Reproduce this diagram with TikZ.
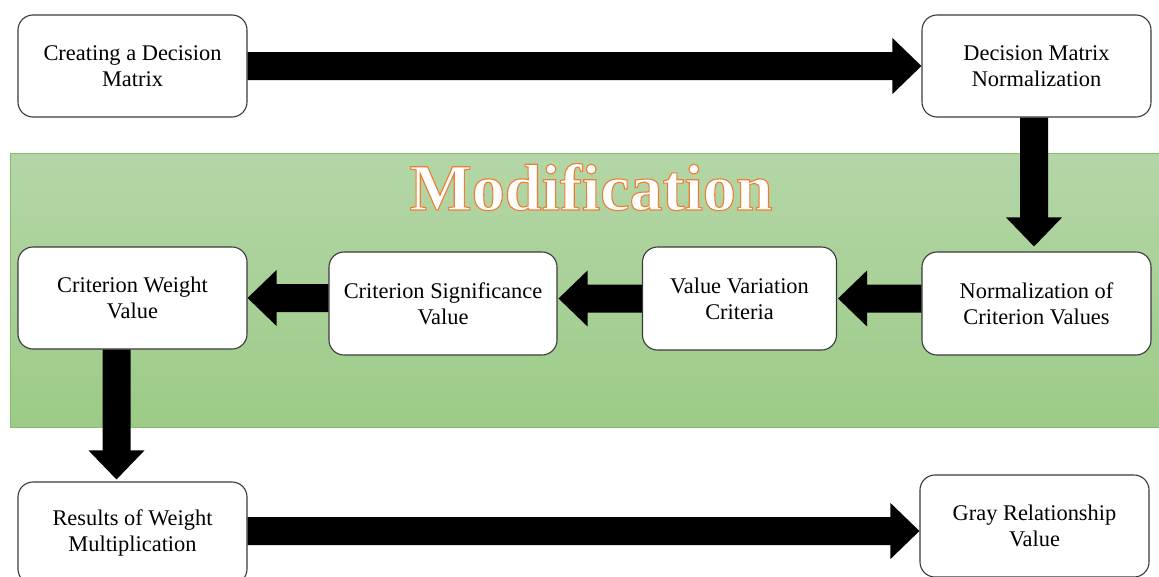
\documentclass[tikz,border=0pt]{standalone}
\usepackage{fontspec}
\setmainfont{Liberation Serif}
\usetikzlibrary{calc}
\definecolor{bandtop}{HTML}{B4D6A7}
\definecolor{bandbot}{HTML}{9CCB87}
\definecolor{bandline}{HTML}{84BD6E}
\definecolor{boxline}{HTML}{3A3A3A}
\definecolor{modorange}{HTML}{ED7D31}
\newcommand\blockarrow[2]{%
  \coordinate (ba-h) at ($(#2)!29pt!(#1)$);
  \fill[black] ($(#1)!14pt!90:(#2)$) -- ($(ba-h)!14pt!-90:(#1)$) -- ($(ba-h)!28pt!-90:(#1)$) -- (#2)
    -- ($(ba-h)!28pt!90:(#1)$) -- ($(ba-h)!14pt!90:(#1)$) -- ($(#1)!14pt!-90:(#2)$) -- cycle;}
\tikzset{
  stepbox/.style={draw=boxline, line width=1.1pt, fill=white, rounded corners=15pt,
    align=center, inner sep=0pt, font=\fontsize{22.4}{26}\selectfont, text=black},
}
\begin{document}
\begin{tikzpicture}[x=1pt,y=-1pt]
\useasboundingbox (0,0) rectangle (1159,576);
\fill[white] (0,0) rectangle (1159,576);
% band
\shade[top color=bandtop, bottom color=bandbot, draw=bandline, line width=0.8pt]
  (10,153) rectangle (1165,427);
\node[anchor=base, inner sep=0pt, font=\fontsize{66}{70}\selectfont\bfseries, text=white]
  (mod) at (591,210) {\special{pdf:literal direct 2 Tr 1.1 w 0.93 0.49 0.19 RG}Modification\special{pdf:literal direct 0 Tr}};
% boxes
\node[stepbox, minimum width=229pt, minimum height=102pt] (A) at (132.5,66) {Creating a Decision\\Matrix};
\node[stepbox, minimum width=229pt, minimum height=102pt] (B) at (1036.5,66) {Decision Matrix\\Normalization};
\node[stepbox, minimum width=229pt, minimum height=103pt] (C) at (1036.5,303.5) {Normalization of\\Criterion Values};
\node[stepbox, minimum width=194pt, minimum height=103pt] (D) at (739.5,298.5) {Value Variation\\Criteria};
\node[stepbox, minimum width=228pt, minimum height=103pt] (E) at (443,303.5) {Criterion Significance\\Value};
\node[stepbox, minimum width=229pt, minimum height=102pt] (F) at (132.5,298) {Criterion Weight\\Value};
\node[stepbox, minimum width=229pt, minimum height=102pt] (G) at (132.5,533) {Results of Weight\\Multiplication};
\node[stepbox, minimum width=229pt, minimum height=102pt] (H) at (1034.5,526) {Gray Relationship\\Value};
% arrows
\coordinate (ab1) at (A.east);
\coordinate (ab2) at (B.west|-A.east);
\blockarrow{ab1}{ab2}
\coordinate (bc1) at ($(B.south)+(-2.5,0)$);
\coordinate (bc2) at ($(C.north)+(-2.5,-5)$);
\blockarrow{bc1}{bc2}
\coordinate (cd1) at (C.west|-D.east);
\coordinate (cd2) at ($(D.east)+(1,0)$);
\blockarrow{cd1}{cd2}
\coordinate (de1) at (D.west);
\coordinate (de2) at ($(E.east|-D.west)+(1,0)$);
\blockarrow{de1}{de2}
\coordinate (ef1) at (E.west|-F.east);
\coordinate (ef2) at (F.east);
\blockarrow{ef1}{ef2}
\coordinate (fg1) at ($(F.south)+(-16,0)$);
\coordinate (fg2) at ($(G.north)+(-16,-2)$);
\blockarrow{fg1}{fg2}
\coordinate (gh1) at ($(G.east|-H.west)+(0,5)$);
\coordinate (gh2) at ($(H.west)+(0,5)$);
\blockarrow{gh1}{gh2}
\end{tikzpicture}
\end{document}
